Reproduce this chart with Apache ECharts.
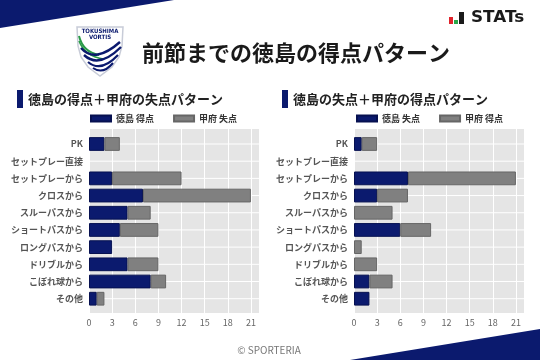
<!DOCTYPE html>
<html><head><meta charset="utf-8">
<script src="https://cdn.jsdelivr.net/npm/echarts@6/dist/echarts.min.js"></script>
<style>html,body{margin:0;padding:0;background:#fff}#c{width:540px;height:360px}</style>
</head><body><div id="c"></div>
<script>
const categories = ['PK','セットプレー直接','セットプレーから','クロスから','スルーパスから','ショートパスから','ロングパスから','ドリブルから','こぼれ球から','その他'];
const leftNames = ['徳島 得点','甲府 失点'];
const leftTokushima = [2,0,3,7,5,4,3,5,8,1];
const leftKofu      = [2,0,9,14,3,5,0,4,2,1];
const rightNames = ['徳島 失点','甲府 得点'];
const rightTokushima = [1,0,7,3,0,6,0,0,2,2];
const rightKofu      = [2,0,14,4,5,4,1,3,3,0];
const xTicks = [0,3,6,9,12,15,18,21];
const mainTitle = '前節までの徳島の得点パターン';
const leftTitle = '徳島の得点＋甲府の失点パターン';
const rightTitle = '徳島の失点＋甲府の得点パターン';

const NAVY = '#0b1a6e', GRAY = '#808080', BG = '#e5e5e5';
const JP = '"Noto Sans CJK JP", "Noto Sans", sans-serif';
const XMAX = 22.05;
const OUT_TOP = 129, OUT_H = 184, IN_TOP = 135.4, IN_H = 171.9, PW = 170;

const panels = [
  {left: 89, title: leftTitle, names: leftNames, a: leftTokushima, b: leftKofu, titleX: 17, legendLeft: 90},
  {left: 354, title: rightTitle, names: rightNames, a: rightTokushima, b: rightKofu, titleX: 282, legendLeft: 356}
];
const grids = [], xAxes = [], yAxes = [], series = [], legends = [], graphics = [];
panels.forEach((p, i) => {
  // plot-area background
  graphics.push({type: 'rect', z: -100, silent: true,
    shape: {x: p.left, y: OUT_TOP, width: PW, height: OUT_H}, style: {fill: BG}});
  grids.push({left: p.left, width: PW, top: OUT_TOP, height: OUT_H});
  grids.push({left: p.left, width: PW, top: IN_TOP, height: IN_H});
  const gb = i * 2, gi = i * 2 + 1;
  xAxes.push({gridIndex: gb, type: 'value', min: 0, max: XMAX, interval: 3,
    axisLine: {show: false}, axisTick: {show: false},
    splitLine: {show: true, lineStyle: {color: '#fff', width: 1}},
    axisLabel: {color: '#666', fontSize: 9, fontFamily: JP, margin: 5, showMaxLabel: false,
      formatter: v => xTicks.indexOf(v) >= 0 ? String(v) : ''}});
  xAxes.push({gridIndex: gi, type: 'value', min: 0, max: XMAX, show: false});
  yAxes.push({gridIndex: gb, type: 'value', show: false, min: 0, max: 1});
  yAxes.push({gridIndex: gi, type: 'category', inverse: true, data: categories,
    axisLine: {show: false}, axisTick: {show: false},
    axisLabel: {color: '#555', fontSize: 9, fontWeight: 'bold', fontFamily: JP, margin: 6},
    splitLine: {show: false}});
  // horizontal white grid lines through each category centre
  categories.forEach(c => {
    series.push({type: 'line', xAxisIndex: gi, yAxisIndex: gi, data: [[0, c], [XMAX, c]],
      symbol: 'none', silent: true, z: 1, animation: false,
      lineStyle: {color: '#fff', width: 1}, emphasis: {disabled: true}, tooltip: {show: false}});
  });
  [p.a, p.b].forEach((d, k) => {
    series.push({type: 'bar', name: p.names[k], xAxisIndex: gi, yAxisIndex: gi, stack: 's' + i,
      data: d.map(v => v === 0 ? '-' : v), barWidth: '80%', z: 3,
      itemStyle: {color: k === 0 ? NAVY : GRAY, borderColor: k === 0 ? '#061050' : '#666', borderWidth: 1},
      emphasis: {disabled: true}});
  });
  legends.push({left: p.legendLeft, top: 114, padding: 0, itemWidth: 20, itemHeight: 6, itemGap: 19,
    icon: 'rect', data: p.names, selectedMode: false,
    textStyle: {fontSize: 9, fontWeight: 'bold', color: '#333', fontFamily: JP}});
  graphics.push({type: 'rect', shape: {x: p.titleX, y: 90, width: 6, height: 18}, style: {fill: NAVY}});
  graphics.push({type: 'text', x: p.titleX + 11, y: 99, style: {text: p.title, fill: '#222',
    font: 'bold 13px ' + JP, verticalAlign: 'middle'}});
});

// decorations
graphics.push({type: 'polygon', shape: {points: [[0,0],[174,0],[0,28]]}, style: {fill: NAVY}, z: -1});
graphics.push({type: 'polygon', shape: {points: [[540,329],[540,360],[350,360]]}, style: {fill: NAVY}, z: -1});
graphics.push({type: 'text', x: 142, y: 53, style: {text: mainTitle, fill: '#1a1a1a',
  font: 'bold 22px ' + JP, verticalAlign: 'middle'}});
graphics.push({type: 'text', x: 269, y: 350, style: {text: '© SPORTERIA', fill: '#777',
  font: '10px ' + JP, align: 'center', verticalAlign: 'middle'}});
// STATs logo
graphics.push({type: 'rect', shape: {x: 449, y: 17, width: 4, height: 7}, style: {fill: '#e0232b'}});
graphics.push({type: 'rect', shape: {x: 454, y: 20, width: 4, height: 4}, style: {fill: '#2aa84a'}});
graphics.push({type: 'rect', shape: {x: 459, y: 12, width: 5, height: 12}, style: {fill: '#1a1a1a'}});
graphics.push({type: 'text', x: 471, y: 18.5, scaleX: 1.12, style: {text: 'STATs', fill: '#1a1a1a',
  font: 'bold 15px "DejaVu Sans", sans-serif', verticalAlign: 'middle'}});
// shield logo
graphics.push({type: 'polygon', shape: {points: [[77,27],[123,27],[122,46],[119,57],[112,67],[100,76],[88,67],[81,57],[78,46]]},
  style: {fill: '#fff', stroke: '#c8ccd8', lineWidth: 1.5}});
graphics.push({type: 'text', x: 100, y: 31, style: {text: 'TOKUSHIMA', fill: NAVY, font: 'bold 6px "DejaVu Sans Condensed", sans-serif', align: 'center', verticalAlign: 'middle'}});
graphics.push({type: 'text', x: 100, y: 37.5, style: {text: 'VORTIS', fill: NAVY, font: 'bold 6px "DejaVu Sans Condensed", sans-serif', align: 'center', verticalAlign: 'middle'}});
const swoosh = [
  [79,36,99,55,83,52,'#2a9a48',2],
  [79,41,103,59,85,56,'#2a9a48',1.6],
  [81,48,120,42,95,64,NAVY,2.4],
  [84,55,121,47,99,69,NAVY,2.4],
  [88,62,118,55,101,73,NAVY,2.2],
  [93,68,113,63,103,75,NAVY,2]
];
swoosh.forEach(s => graphics.push({type: 'bezierCurve',
  shape: {x1: s[0], y1: s[1], x2: s[2], y2: s[3], cpx1: s[4], cpy1: s[5]},
  style: {fill: null, stroke: s[6], lineWidth: s[7]}}));

const chart = echarts.init(document.getElementById('c'), null, {renderer: 'canvas'});
chart.setOption({
  animation: false,
  backgroundColor: '#fff',
  grid: grids, xAxis: xAxes, yAxis: yAxes, series: series, legend: legends,
  graphic: graphics
});
</script></body></html>
